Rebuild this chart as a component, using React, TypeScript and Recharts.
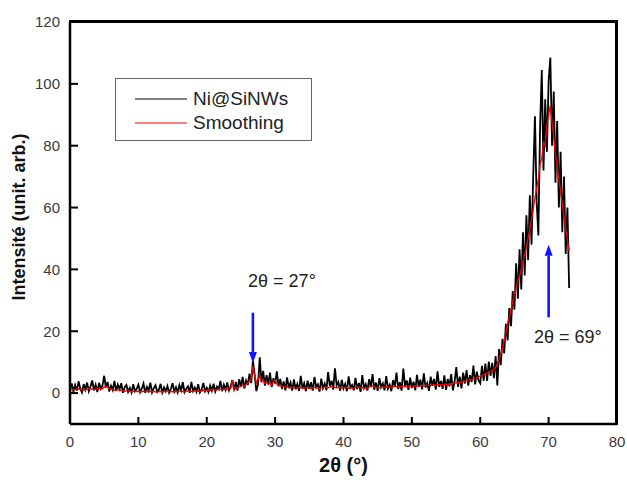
import {
  LineChart,
  Line,
  XAxis,
  YAxis,
  Legend,
  ReferenceLine,
  ReferenceDot,
} from "recharts";

// scan grid (2θ, degrees)
const scanStart = 0;
const scanStep = 0.25;

// raw diffractogram, one row = 5°
const rawCounts = [
  1.2, 3.1, 0.4, 2.6, 0.8, 3.8, 1.5, 0.2, 2.9, 1.1, 3.4, 0.6, 2.2, 4.1, 0.9, 2.7, 0.3, 3.3, 1.4, 2.5,
  5.6, 1.8, 3.6, 0.5, 2.4, 1.0, 3.9, 0.7, 2.8, 1.3, 3.2, 0.1, 1.9, 2.6, 0.4, 1.7, 0.2, 2.9, 0.6, 1.4,
  2.7, 0.3, 1.5, 3.1, 0.1, 2.0, 0.8, 3.4, 0.2, 1.6, 2.5, 0.4, 1.1, 3.0, 0.2, 1.8, 0.6, 2.3, 0.1, 1.3,
  3.2, 0.5, 1.9, 0.2, 2.6, 0.9, 3.5, 0.3, 1.4, 2.2, 0.1, 3.6, 0.7, 1.8, 0.4, 2.9, 0.2, 1.2, 3.3, 0.6,
  1.7, 0.3, 2.4, 0.8, 3.0, 0.5, 2.1, 1.2, 3.9, 0.6, 2.7, 1.0, 3.4, 0.9, 2.2, 4.2, 1.1, 3.6, 0.8, 4.5,
  2.0, 5.2, 1.5, 4.1, 2.6, 6.3, 3.2, 10.5, 6.0, 0.6, 2.8, 11.6, 3.5, 7.2, 2.4, 5.8, 3.0, 6.6, 1.9, 4.8,
  3.1, 7.0, 2.2, 4.6, 1.3, 3.8, 0.9, 5.1, 1.6, 3.4, 0.8, 4.4, 1.2, 2.9, 0.7, 5.6, 1.5, 3.2, 0.6, 4.0,
  1.4, 3.5, 0.8, 5.2, 1.9, 2.8, 0.5, 4.7, 1.6, 3.1, 0.9, 6.8, 2.3, 4.0, 1.1, 8.0, 2.5, 3.6, 0.7, 4.3,
  1.5, 3.0, 0.6, 5.4, 1.8, 2.6, 0.9, 4.9, 1.3, 3.3, 0.4, 5.8, 1.7, 2.9, 0.8, 4.5, 2.0, 6.1, 1.1, 3.4,
  0.7, 4.8, 1.9, 3.1, 0.9, 5.5, 1.4, 2.7, 0.6, 4.2, 2.1, 6.6, 1.3, 3.5, 0.8, 7.9, 2.2, 4.1, 1.0, 5.0,
  1.6, 3.7, 0.9, 5.9, 2.0, 4.3, 1.2, 6.4, 1.8, 3.2, 0.7, 5.3, 2.4, 4.6, 1.1, 7.0, 2.0, 3.9, 1.4, 5.7,
  1.0, 4.6, 2.2, 6.1, 0.9, 3.8, 8.4, 2.0, 5.3, 1.5, 6.6, 3.1, 7.4, 2.4, 5.8, 3.6, 8.9, 2.8, 6.9, 4.1,
  3.2, 8.8, 4.0, 9.5, 3.9, 10.2, 5.6, 9.8, 4.8, 12.0, 2.5, 14.2, 9.0, 17.5, 12.8, 22.4, 17.0, 27.5, 21.6, 33.0,
  27.0, 42.0, 30.5, 46.5, 33.5, 52.0, 38.0, 57.5, 43.0, 64.0, 48.0, 70.5, 89.5, 62.0, 51.0, 86.0, 104.5, 72.0, 95.0, 78.0,
  101.0, 108.5, 80.0, 97.5, 68.0, 88.0, 60.0, 78.0, 52.0, 70.0, 45.0, 60.0, 34.0,
];

// smoothed curve on the same grid
const smoothCounts = [
  1.3, 1.2, 1.0, 1.1, 1.3, 1.4, 1.2, 1.0, 0.9, 1.1, 1.3, 1.5, 1.4, 1.2, 1.1, 1.3, 1.6, 1.5, 1.3, 1.4,
  2.0, 2.2, 1.8, 1.5, 1.3, 1.2, 1.0, 0.9, 1.1, 1.0, 0.8, 0.7, 0.6, 0.7, 0.8, 0.6, 0.5, 0.6, 0.7, 0.5,
  0.6, 0.5, 0.4, 0.6, 0.7, 0.5, 0.4, 0.5, 0.6, 0.5, 0.4, 0.3, 0.5, 0.6, 0.4, 0.5, 0.6, 0.7, 0.5, 0.4,
  0.5, 0.6, 0.4, 0.5, 0.7, 0.6, 0.5, 0.4, 0.6, 0.8, 0.7, 0.6, 0.5, 0.7, 0.8, 0.6, 0.5, 0.7, 0.9, 0.8,
  0.9, 1.0, 0.8, 1.1, 1.2, 1.0, 1.1, 1.3, 1.2, 1.1, 1.3, 1.4, 1.2, 1.3, 1.5, 4.2, 0.8, 1.6, 1.8, 2.0,
  2.2, 2.6, 2.4, 2.9, 3.3, 3.8, 5.2, 8.6, 6.0, 3.2, 4.5, 5.6, 3.8, 4.4, 3.1, 3.6, 2.8, 3.3, 2.5, 3.9,
  4.2, 2.9, 2.6, 2.4, 2.2, 2.0, 1.9, 2.1, 1.8, 1.7, 1.9, 1.8, 1.6, 1.7, 1.9, 1.8, 1.6, 1.5, 1.7, 1.8,
  1.6, 1.5, 1.7, 1.9, 1.8, 1.6, 1.5, 1.7, 1.8, 2.0, 1.8, 1.7, 1.9, 2.1, 2.0, 1.8, 1.7, 1.9, 1.8, 1.6,
  1.7, 1.9, 1.8, 1.6, 1.5, 1.7, 1.6, 1.8, 2.0, 1.9, 1.7, 1.8, 1.6, 1.5, 1.7, 1.9, 2.1, 2.4, 2.2, 1.9,
  1.8, 1.7, 1.9, 2.0, 1.8, 1.9, 2.1, 2.0, 1.8, 2.0, 2.2, 2.1, 1.9, 2.0, 2.2, 2.3, 2.1, 2.0, 2.2, 2.3,
  2.1, 2.2, 2.4, 2.3, 2.2, 2.4, 2.5, 2.3, 2.4, 2.6, 2.5, 2.4, 2.6, 2.7, 2.5, 2.6, 2.8, 2.7, 2.6, 2.8,
  2.8, 2.9, 3.0, 2.9, 3.1, 3.2, 3.3, 3.4, 3.6, 3.5, 3.7, 3.9, 4.0, 4.2, 4.4, 4.5, 4.7, 4.9, 5.1, 5.3,
  5.5, 5.7, 5.9, 6.2, 6.5, 6.8, 7.1, 7.3, 7.5, 8.4, 9.5, 10.9, 12.5, 14.6, 17.0, 19.8, 22.5, 24.6, 27.0, 29.6,
  32.0, 34.3, 36.5, 38.0, 40.0, 42.6, 45.0, 47.3, 50.0, 53.2, 56.0, 59.8, 63.0, 66.3, 69.0, 74.0, 76.0, 81.0, 80.0, 87.0,
  90.0, 93.0, 87.5, 83.0, 77.0, 73.5, 69.0, 65.5, 61.0, 57.0, 53.0, 49.5, 46.0,
];

const xMajorTicks = [0, 10, 20, 30, 40, 50, 60, 70, 80];
const xMinorTicks = [5, 15, 25, 35, 45, 55, 65, 75];
const yMajorTicks = [0, 20, 40, 60, 80, 100, 120];
const yMinorTicks = [-10, 10, 30, 50, 70, 90, 110];

const seriesNames = ["Ni@SiNWs", "Smoothing"];
const seriesColors = ["#000000", "#ee0000"];

const peakLabels = ["2θ = 27°", "2θ = 69°"];

const data = rawCounts.map((v, i) => ({
  angle: scanStart + i * scanStep,
  raw: v,
  smooth: smoothCounts[i],
}));

const font = "'Liberation Sans', Arial, sans-serif";
const blue = "#1414ff";
const tickStroke = { stroke: "#000", strokeWidth: 2 };
const tickText = { fontSize: 15, fill: "#3a3a3a" };

const Arrow = (props: any) => {
  const { x1, y1, x2, y2 } = props;
  const dir = y2 > y1 ? 1 : -1;
  const head = 11;
  return (
    <g>
      <line x1={x1} y1={y1} x2={x2} y2={y2 - dir * head} stroke={blue} strokeWidth={2.6} />
      <polygon
        points={`${x2 - 4},${y2 - dir * head} ${x2 + 4},${y2 - dir * head} ${x2},${y2}`}
        fill={blue}
      />
    </g>
  );
};

const PeakText = (text: string) => (props: any) => (
  <text x={props.cx} y={props.cy} textAnchor="middle" fontSize={18} fill="#222">
    {text}
  </text>
);

const LegendBox = () => (
  <div
    style={{
      width: 197,
      height: 63,
      border: "1.5px solid #666",
      boxSizing: "border-box",
      position: "relative",
      fontFamily: font,
      fontSize: 19,
      color: "#222",
      background: "#fff",
    }}
  >
    {seriesNames.map((name, i) => (
      <div
        key={name}
        style={{
          position: "absolute",
          left: 19,
          top: 8 + i * 24,
          height: 24,
          display: "flex",
          alignItems: "center",
          whiteSpace: "nowrap",
        }}
      >
        <svg width={52} height={4}>
          <line x1={0} y1={2} x2={52} y2={2} stroke={seriesColors[i]} strokeWidth={1.2} />
        </svg>
        <span style={{ marginLeft: 6 }}>{name}</span>
      </div>
    ))}
  </div>
);

export default function App() {
  return (
    <div style={{ position: "fixed", left: 0, top: 0, fontFamily: font, background: "#fff" }}>
      <LineChart
        width={627}
        height={482}
        data={data}
        margin={{ top: 22, right: 10, bottom: 0, left: 0 }}
      >
        <XAxis
          xAxisId="minor"
          type="number"
          domain={[0, 80]}
          ticks={xMinorTicks}
          interval={0}
          height={0}
          tick={false}
          tickSize={-4}
          tickLine={tickStroke}
          axisLine={false}
        />
        <XAxis
          dataKey="angle"
          type="number"
          domain={[0, 80]}
          ticks={xMajorTicks}
          interval={0}
          height={58}
          tickSize={-7}
          tickMargin={19}
          tickLine={tickStroke}
          tick={tickText}
          axisLine={{ stroke: "#000", strokeWidth: 2.5 }}
          label={{
            content: ({ viewBox }: any) => (
              <text
                x={viewBox.x + viewBox.width / 2}
                y={472}
                textAnchor="middle"
                fontSize={20}
                fontWeight="bold"
                fill="#111"
              >
                2θ (°)
              </text>
            ),
          }}
        />
        <YAxis
          yAxisId="minor"
          type="number"
          domain={[-10, 120]}
          ticks={yMinorTicks}
          interval={0}
          width={0}
          tick={false}
          tickSize={-4}
          tickLine={tickStroke}
          axisLine={false}
        />
        <YAxis
          type="number"
          domain={[-10, 120]}
          ticks={yMajorTicks}
          interval={0}
          width={70}
          tickSize={-8}
          tickMargin={18}
          tickLine={tickStroke}
          tick={tickText}
          axisLine={{ stroke: "#000", strokeWidth: 2.5 }}
          label={{
            content: () => (
              <text
                x={25}
                y={217}
                transform="rotate(-90, 25, 217)"
                textAnchor="middle"
                fontSize={18}
                fontWeight="bold"
                fill="#111"
              >
                Intensité (unit. arb.)
              </text>
            ),
          }}
        />
        <Line
          dataKey="raw"
          name={seriesNames[0]}
          stroke={seriesColors[0]}
          strokeWidth={1.8}
          dot={false}
          type="linear"
          isAnimationActive={false}
        />
        <Line
          dataKey="smooth"
          name={seriesNames[1]}
          stroke={seriesColors[1]}
          strokeWidth={1.4}
          dot={false}
          type="linear"
          isAnimationActive={false}
        />
        <ReferenceLine
          segment={[
            { x: 26.75, y: 26 },
            { x: 26.75, y: 9.7 },
          ]}
          shape={<Arrow />}
        />
        <ReferenceLine
          segment={[
            { x: 70, y: 24.5 },
            { x: 70, y: 48 },
          ]}
          shape={<Arrow />}
        />
        <ReferenceDot x={31} y={34.2} r={0} ifOverflow="visible" shape={PeakText(peakLabels[0])} />
        <ReferenceDot x={72.8} y={16.1} r={0} ifOverflow="visible" shape={PeakText(peakLabels[1])} />
        <Legend
          layout="horizontal"
          verticalAlign="middle"
          align="center"
          wrapperStyle={{ top: 78, left: 115, width: 197, height: 63 }}
          content={<LegendBox />}
        />
      </LineChart>
      {/* top and right edges of the plot frame */}
      <div
        style={{
          position: "absolute",
          left: 69,
          top: 20,
          width: 549,
          height: 405,
          borderTop: "3px solid #000",
          borderRight: "3px solid #000",
          boxSizing: "border-box",
          pointerEvents: "none",
        }}
      />
    </div>
  );
}
